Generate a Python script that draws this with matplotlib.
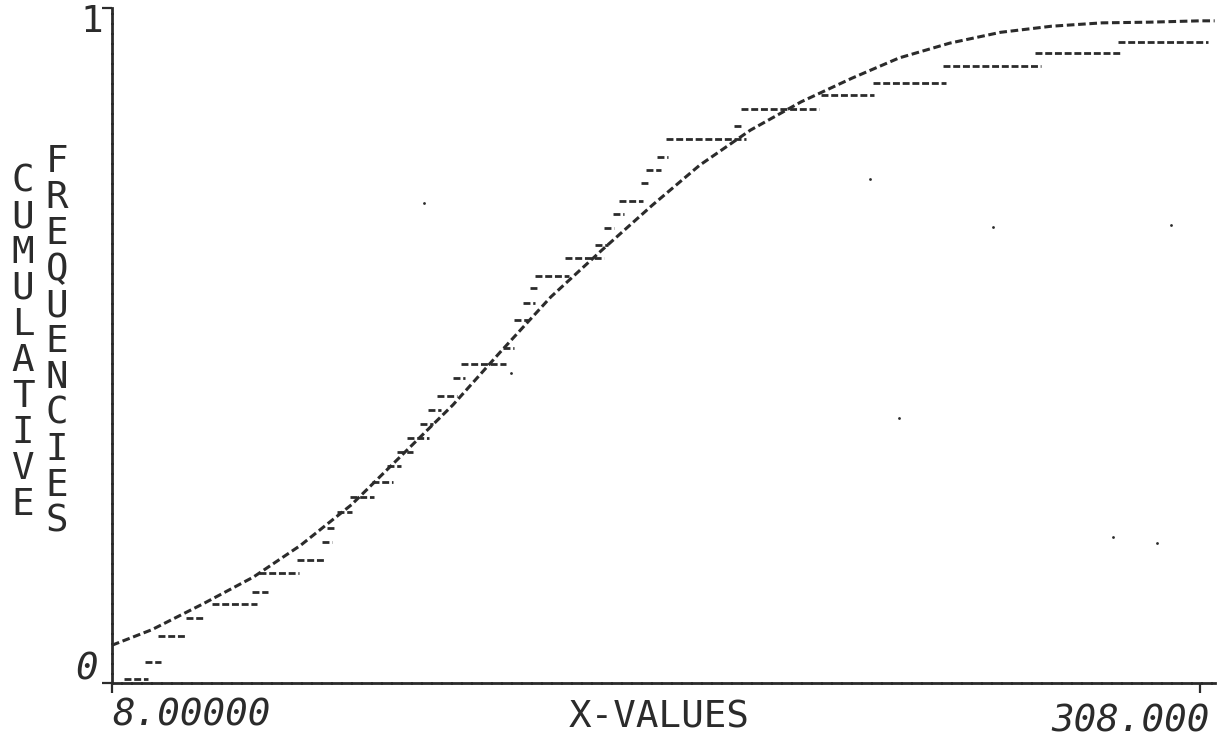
import matplotlib
matplotlib.use('Agg')
import matplotlib.pyplot as plt

# ---------------------------------- data ----------------------------------
# theoretical (smooth) cumulative curve
curve_x = [8, 19, 33, 47, 60, 74, 88, 102, 115, 129, 143, 157, 170, 184,
           198, 212, 225, 239, 253, 267, 281, 294, 308, 312]
curve_y = [0.056, 0.079, 0.117, 0.157, 0.204, 0.264, 0.338, 0.412, 0.490, 0.572,
           0.641, 0.708, 0.767, 0.819, 0.861, 0.896, 0.926, 0.948, 0.964, 0.973,
           0.978, 0.979, 0.981, 0.981]

# empirical steps: level, start, end
step_y = [0.006, 0.031, 0.070, 0.096, 0.117, 0.135, 0.163, 0.182, 0.209, 0.230,
          0.253, 0.276, 0.298, 0.321, 0.342, 0.363, 0.384, 0.404, 0.425, 0.452,
          0.473, 0.496, 0.538, 0.563, 0.585, 0.603, 0.630, 0.649, 0.674, 0.695,
          0.714, 0.741, 0.760, 0.779, 0.806, 0.825, 0.850, 0.871, 0.889, 0.914,
          0.933, 0.950]
step_x0 = [11.3, 17.1, 20.7, 28.4, 35.5, 46.5, 48.5, 58.9, 65.8, 67.2,
           69.9, 73.5, 79.6, 83.7, 86.7, 89.2, 92.8, 95.2, 97.5, 102.1,
           104.3, 115.9, 118.9, 121.4, 123.3, 124.7, 133.0, 141.2, 143.7, 146.2,
           147.8, 153.9, 155.2, 158.3, 160.8, 179.5, 181.4, 203.4, 217.7, 237.0,
           262.6, 285.4]
step_x1 = [17.9, 21.5, 28.6, 33.3, 47.9, 50.9, 59.5, 66.9, 68.6, 69.4,
           74.1, 80.1, 85.6, 87.8, 91.1, 95.5, 96.6, 98.8, 103.0, 105.2,
           116.7, 118.9, 122.8, 124.7, 125.8, 134.1, 143.7, 144.8, 146.4, 149.2,
           154.4, 155.8, 159.4, 161.3, 182.8, 181.9, 202.9, 218.0, 237.8, 264.0,
           286.5, 310.2]

# stray specks of the scan
speck_x = [94, 118, 217, 251, 300, 225, 284, 296]
speck_y = [0.711, 0.459, 0.746, 0.676, 0.678, 0.393, 0.217, 0.208]

x_ticks = [8, 308]
x_labels = ['8.00000', '308.000']
y_labels = ['0', '1']
x_title = 'X-VALUES'
y_title = ['CUMULATIVE', 'FREQUENCIES']

# ---------------------------------- figure ----------------------------------
W, H = 1226, 746
ink = '#2b2b2b'
font = 'DejaVu Sans Mono'

fig = plt.figure(figsize=(W / 100, H / 100), dpi=100)
ax = fig.add_axes([112 / W, (H - 683) / H, (1215 - 112) / W, 675 / H])
ax.set_xlim(8, 312.1)
ax.set_ylim(0, 1)

ax.plot(curve_x, curve_y, color=ink, lw=2.2, ls=(0, (2.5, 1.2)), clip_on=False)
ax.hlines(step_y, step_x0, step_x1, color=ink, lw=2.0, linestyles=(0, (2.5, 1.0)))
ax.scatter(speck_x, speck_y, s=4, color=ink, lw=0)

for s in ['top', 'right']:
    ax.spines[s].set_visible(False)
for s in ['left', 'bottom']:
    ax.spines[s].set_linewidth(2)
    ax.spines[s].set_color(ink)
    ax.spines[s].set_linestyle((0, (3, 0.6)))

ax.set_xticks(x_ticks)
ax.set_yticks([0, 1])
ax.set_xticklabels([])
ax.set_yticklabels([])
ax.tick_params(direction='out', length=7, width=1.6, color=ink)


def ftext(x, y, s, **kw):
    fig.text(x / W, 1 - y / H, s, family=font, fontsize=27, color=ink, **kw)


ftext(112, 716, x_labels[0], ha='left', va='center', style='oblique')
ftext(1210, 721, x_labels[1], ha='right', va='center', style='oblique')
ftext(659, 718, x_title, ha='center', va='center')
ftext(98, 670, y_labels[0], ha='right', va='center', style='oblique')
ftext(103, 22, y_labels[1], ha='right', va='center')

for i, ch in enumerate(y_title[0]):
    ftext(23, 181 + 36 * i, ch, ha='center', va='center')
for i, ch in enumerate(y_title[1]):
    ftext(57, 162 + 36 * i, ch, ha='center', va='center')

fig.savefig('out.png', dpi=100, facecolor='white')
